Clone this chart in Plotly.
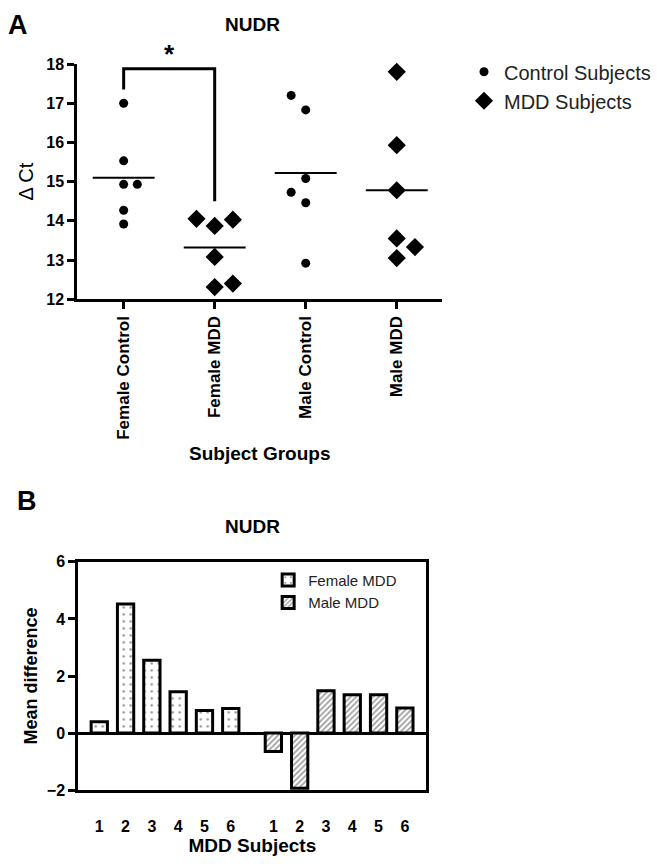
import plotly.graph_objects as go

# ---------------- data ----------------
groups = ["Female Control", "Female MDD", "Male Control", "Male MDD"]
female_control = [17.0, 15.53, 14.93, 14.93, 14.27, 13.92]
female_mdd = [14.05, 13.87, 14.03, 13.08, 12.31, 12.40]
male_control = [17.2, 16.83, 15.08, 14.73, 14.46, 12.92]
male_mdd = [17.8, 15.93, 14.78, 13.55, 13.33, 13.05]
group_means = [15.10, 13.32, 15.22, 14.78]

subjects = ["1", "2", "3", "4", "5", "6"]
female_diff = [0.40, 4.52, 2.55, 1.45, 0.79, 0.86]
male_diff = [-0.64, -1.93, 1.48, 1.34, 1.34, 0.88]

# ---------------- style / layout helpers ----------------
FONT = "Arial, 'Liberation Sans', sans-serif"
PAGE_OFF = 8            # default body margin of the html page
W, H = 664 - 2 * PAGE_OFF, 866 - 2 * PAGE_OFF
# horizontal jitter of dots within each group (style)
jitter = [
    [0, 0, 0, 0.15, 0, 0],
    [-0.2, 0, 0.2, 0, 0, 0.2],
    [-0.16, 0, 0, -0.16, 0, 0],
    [0, 0, 0, 0, 0.2, 0],
]
male_shift = 6.62
half_mean = 0.34


def px_x(p):
    return (p - PAGE_OFF) / W


def px_y(p):
    return 1 - (p - PAGE_OFF) / H


fig = go.Figure()

group_data = [female_control, female_mdd, male_control, male_mdd]
is_mdd = [False, True, False, True]

shown = {False: False, True: False}
for gi, vals in enumerate(group_data):
    mdd = is_mdd[gi]
    fig.add_trace(go.Scatter(
        x=[gi + j for j in jitter[gi]], y=vals, mode="markers",
        marker=dict(symbol="diamond" if mdd else "circle",
                    size=14 if mdd else 9, color="black"),
        name="MDD Subjects" if mdd else "Control Subjects",
        legendgroup="mdd" if mdd else "ctrl",
        showlegend=not shown[mdd], legend="legend",
        xaxis="x", yaxis="y", cliponaxis=False, hoverinfo="y"))
    shown[mdd] = True

# mean lines
mx, my = [], []
for gi, m in enumerate(group_means):
    mx += [gi - half_mean, gi + half_mean, None]
    my += [m, m, None]
fig.add_trace(go.Scatter(x=mx, y=my, mode="lines", line=dict(color="black", width=2),
                         showlegend=False, xaxis="x", yaxis="y", hoverinfo="skip"))

# significance bracket
fig.add_trace(go.Scatter(x=[0, 0, 1, 1], y=[17.35, 17.88, 17.88, 14.5], mode="lines",
                         line=dict(color="black", width=3), showlegend=False,
                         xaxis="x", yaxis="y", cliponaxis=False, hoverinfo="skip"))

# ---------------- panel B bars ----------------
fx = list(range(len(subjects)))
mxp = [i + male_shift for i in range(len(subjects))]
fig.add_trace(go.Bar(
    x=fx, y=female_diff, width=0.62, name="Female MDD", legend="legend2",
    marker=dict(color="white", line=dict(color="black", width=3),
                pattern=dict(shape=".", fgcolor="#222", bgcolor="white", size=7, solidity=0.1)),
    xaxis="x2", yaxis="y2"))
fig.add_trace(go.Bar(
    x=mxp, y=male_diff, width=0.62, name="Male MDD", legend="legend2",
    marker=dict(color="white", line=dict(color="black", width=3),
                pattern=dict(shape="/", fgcolor="#333", bgcolor="white", size=4, solidity=0.4)),
    xaxis="x2", yaxis="y2"))

tickfont = dict(family=FONT, size=16, color="black", weight="bold")

fig.update_layout(
    width=W, height=H, margin=dict(l=0, r=0, t=0, b=0),
    paper_bgcolor="white", plot_bgcolor="white",
    font=dict(family=FONT, color="black"),
    showlegend=True,
    xaxis=dict(domain=[px_x(78), px_x(447)], range=[-0.51, 3.5], anchor="y",
               tickvals=list(range(len(groups))), ticktext=groups, tickangle=-90,
               tickfont=dict(family=FONT, size=17, color="black", weight="bold"),
               showline=True, linewidth=3, linecolor="black",
               ticks="outside", ticklen=7, tickwidth=2.5, tickcolor="black",
               showgrid=False, zeroline=False,
               title=dict(text="Subject Groups", standoff=8,
                          font=dict(family=FONT, size=19, color="black", weight="bold"))),
    yaxis=dict(domain=[px_y(297), px_y(57)], range=[12, 18], anchor="x",
               tickvals=[12, 13, 14, 15, 16, 17, 18], tickfont=tickfont,
               showline=True, linewidth=3, linecolor="black",
               ticks="outside", ticklen=7, tickwidth=3, tickcolor="black",
               showgrid=False, zeroline=False,
               title=dict(text="Δ Ct", standoff=8,
                          font=dict(family=FONT, size=20, color="black"))),
    xaxis2=dict(domain=[px_x(79), px_x(431)], range=[-0.8, 12.44], anchor="y2",
                tickvals=fx + mxp, ticktext=subjects + subjects,
                tickfont=dict(family=FONT, size=16, color="black", weight="bold"),
                ticks="", ticklabelstandoff=20,
                showline=True, mirror=True, linewidth=3, linecolor="black",
                showgrid=False, zeroline=False,
                title=dict(text="MDD Subjects", standoff=0,
                           font=dict(family=FONT, size=19, color="black", weight="bold"))),
    yaxis2=dict(domain=[px_y(798), px_y(565)], range=[-2, 6], anchor="x2",
                tickvals=[-2, 0, 2, 4, 6], tickfont=tickfont,
                showline=True, mirror=True, linewidth=3, linecolor="black",
                ticks="outside", ticklen=7, tickwidth=3, tickcolor="black",
                showgrid=False, zeroline=True, zerolinewidth=3, zerolinecolor="black",
                title=dict(text="Mean difference", standoff=5,
                           font=dict(family=FONT, size=18, color="black", weight="bold"))),
    legend=dict(x=px_x(469), y=px_y(45), xanchor="left", yanchor="top",
                font=dict(family=FONT, size=20, color="#222"),
                traceorder="grouped", tracegroupgap=0, bgcolor="rgba(0,0,0,0)"),
    legend2=dict(x=px_x(271), y=px_y(567), xanchor="left", yanchor="top",
                 font=dict(family=FONT, size=15, color="#222"),
                 bgcolor="rgba(0,0,0,0)", tracegroupgap=0),
    barmode="overlay",
)

annos = [
    dict(text="A", x=px_x(18), y=px_y(17), size=27),
    dict(text="NUDR", x=px_x(255), y=px_y(17), size=19),
    dict(text="B", x=px_x(27), y=px_y(503), size=27),
    dict(text="NUDR", x=px_x(255), y=px_y(529), size=19),
    dict(text="*", x=px_x(171), y=px_y(47), size=26),
]
for a in annos:
    fig.add_annotation(text=a["text"], x=a["x"], y=a["y"], xref="paper", yref="paper",
                       showarrow=False, xanchor="center", yanchor="middle",
                       font=dict(family=FONT, size=a["size"], color="black", weight="bold"))

fig.write_html("out.html")
